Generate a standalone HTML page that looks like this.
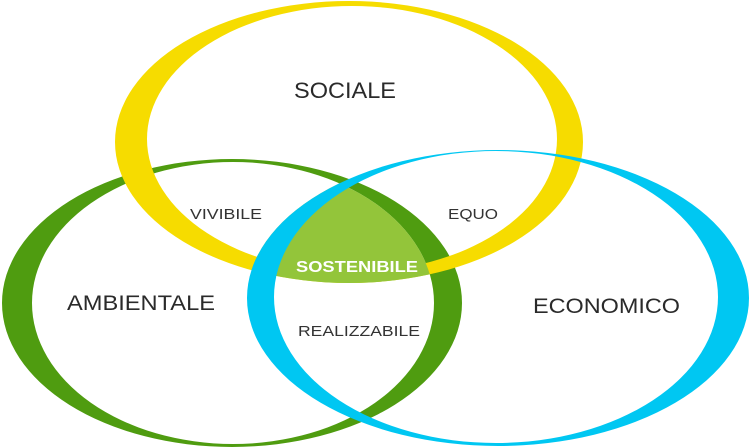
<!DOCTYPE html>
<html><head><meta charset="utf-8"><style>
html,body{margin:0;padding:0;background:#fff;width:749px;height:447px;overflow:hidden}
svg{display:block}
text{font-family:"Liberation Sans",sans-serif}
</style></head><body>
<svg width="749" height="447" viewBox="0 0 749 447" xmlns="http://www.w3.org/2000/svg">
<defs>
<clipPath id="cy"><ellipse cx="349" cy="142" rx="234" ry="141"/></clipPath>
<clipPath id="cb"><ellipse cx="498" cy="298" rx="251" ry="148"/></clipPath>
</defs>
<!-- green -->
<path fill="#4f9c10" fill-rule="evenodd" d="M2,303 a230,144 0 1,0 460,0 a230,144 0 1,0 -460,0 Z
 M32,303 a201,141 0 1,0 402,0 a201,141 0 1,0 -402,0 Z"/>
<!-- yellow -->
<path fill="#f6dc00" fill-rule="evenodd" d="M115,142 a234,141 0 1,0 468,0 a234,141 0 1,0 -468,0 Z
 M147,139 a205,133 0 1,0 410,0 a205,133 0 1,0 -410,0 Z" transform="rotate(0)"/>
<!-- center -->
<g clip-path="url(#cy)"><g clip-path="url(#cb)">
<ellipse cx="233" cy="303" rx="201" ry="141" fill="#93c53a"/>
</g></g>
<!-- blue -->
<path fill="#00c7f2" fill-rule="evenodd" d="M247,298 a251,148 0 1,0 502,0 a251,148 0 1,0 -502,0 Z
 M274,297 a222,146 0 1,0 444,0 a222,146 0 1,0 -444,0 Z"/>
<text x="345" y="98" font-size="22" fill="#2a2a2a" text-anchor="middle" textLength="102" lengthAdjust="spacingAndGlyphs">SOCIALE</text>
<text x="190" y="219" font-size="15" fill="#333" textLength="72" lengthAdjust="spacingAndGlyphs">VIVIBILE</text>
<text x="448" y="219" font-size="15" fill="#333" textLength="50" lengthAdjust="spacingAndGlyphs">EQUO</text>
<text x="296" y="272" font-size="16" font-weight="bold" fill="#fff" textLength="122" lengthAdjust="spacingAndGlyphs">SOSTENIBILE</text>
<text x="67" y="310" font-size="21" fill="#2a2a2a" textLength="148" lengthAdjust="spacingAndGlyphs">AMBIENTALE</text>
<text x="533" y="313" font-size="21" fill="#2a2a2a" textLength="147" lengthAdjust="spacingAndGlyphs">ECONOMICO</text>
<text x="298" y="336" font-size="15" fill="#333" textLength="122" lengthAdjust="spacingAndGlyphs">REALIZZABILE</text>
</svg>
</body></html>
